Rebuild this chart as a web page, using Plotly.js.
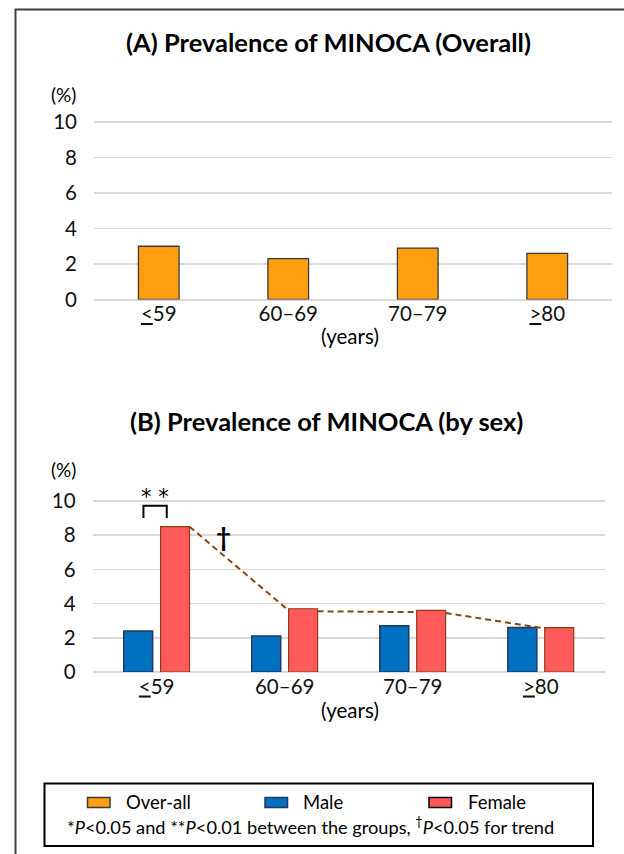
<!DOCTYPE html>
<html>
<head>
<meta charset="utf-8">
<script src="https://cdn.plot.ly/plotly-3.0.1.min.js"></script>
<style>html,body{margin:0;padding:0;background:#fff;}#chart{width:624px;height:854px;}</style>
</head>
<body>
<div id="chart"></div>
<script>
// ---- data ----
const ageGroups = ['<59', '60–69', '70–79', '>80'];
const tickLabels = ['<u>&lt;</u>59', '60–69', '70–79', '<u>&gt;</u>80'];
const overall = [3.0, 2.3, 2.9, 2.6];
const male = [2.4, 2.1, 2.7, 2.6];
const female = [8.5, 3.7, 3.6, 2.6];
// trend line (female): start value at each bar's right edge, end value at next bar's left edge
const trendFrom = [8.5, 3.55, 3.45];
const trendTo = [3.6, 3.5, 2.55];
const yTicks = [0, 2, 4, 6, 8, 10];
const titleA = '(A) Prevalence of MINOCA (Overall)';
const titleB = '(B) Prevalence of MINOCA (by sex)';
const legendNames = ['Over-all', 'Male', 'Female'];
const footnote = '*<i>P</i>&lt;0.05 and **<i>P</i>&lt;0.01 between the groups, <sup>†</sup><i>P</i>&lt;0.05 for trend';

// ---- styles ----
const W = 624, H = 854;
const FONT = 'Lato, "Open Sans", sans-serif';
const cOverall = '#FF9F10', cMale = '#0070C0', cFemale = '#FF5A5A';
const lOverall = '#3A3A3A', lMale = '#1F3864', lFemale = '#8E3B12';
const trendColor = '#8B4513';
const gridColor = '#D9D9D9';
const px = x => x / W;
const py = y => 1 - y / H;

const idx = ageGroups.map((_, i) => i);
const barW = 0.226, gap = 0.031;

const traces = [
  {type: 'bar', x: idx, y: overall, name: legendNames[0], xaxis: 'x', yaxis: 'y', width: 0.314,
   marker: {color: cOverall, line: {color: lOverall, width: 1.3}}, showlegend: false, hoverinfo: 'y'},
  {type: 'bar', x: idx, y: male, name: legendNames[1], xaxis: 'x2', yaxis: 'y2', width: barW, offset: -(barW + gap),
   marker: {color: cMale, line: {color: lMale, width: 1.5}}, showlegend: false, hoverinfo: 'y'},
  {type: 'bar', x: idx, y: female, name: legendNames[2], xaxis: 'x2', yaxis: 'y2', width: barW, offset: gap,
   marker: {color: cFemale, line: {color: lFemale, width: 1.2}}, showlegend: false, hoverinfo: 'y'}
];
// dashed trend segments
const tx = [], ty = [];
trendFrom.forEach((v, i) => {
  tx.push(i + gap + barW, i + 1 + gap, null);
  ty.push(v, trendTo[i], null);
});
traces.push({type: 'scatter', mode: 'lines', x: tx, y: ty, xaxis: 'x2', yaxis: 'y2',
  line: {color: trendColor, width: 2, dash: '6px,4px'}, showlegend: false, hoverinfo: 'skip', connectgaps: false});

const yAxisBase = {range: [0, 10.3], tickvals: yTicks, ticktext: yTicks.map(String), showgrid: true,
  gridcolor: gridColor, gridwidth: 1.5, zeroline: true, zerolinecolor: gridColor, zerolinewidth: 2,
  showline: false, ticks: '', ticklabelstandoff: 16, tickfont: {family: FONT, size: 20.5, color: '#111'}, fixedrange: true};
const xAxisBase = {range: [-0.5, 3.5], tickvals: idx, ticktext: tickLabels, showgrid: false, zeroline: false,
  showline: false, ticks: '', tickfont: {family: FONT, size: 20.5, color: '#111'}, fixedrange: true};

// A: 0 at y=299.5, 17.75 px/unit; B: 0 at y=672, 17.1 px/unit
const aZero = 299.5, aUnit = 17.75, bZero = 672, bUnit = 17.1;

const ann = [];
function txt(x, y, text, size, opts) {
  ann.push(Object.assign({xref: 'paper', yref: 'paper', x: px(x), y: py(y), text: text, showarrow: false,
    xanchor: 'center', yanchor: 'middle', font: {family: FONT, size: size, color: '#000'}}, opts || {}));
}
txt(328, 42, '<b>' + titleA + '</b>', 25.5);
txt(326, 421, '<b>' + titleB + '</b>', 25.5);
txt(63, 94, '(%)', 19);
txt(63, 470, '(%)', 19);
txt(350, 336, '(years)', 20.5);
txt(350, 710, '(years)', 20.5);
// significance markers in B
ann.push({xref: 'paper', yref: 'paper', x: px(154.5), y: py(497), text: '* *', showarrow: false,
  xanchor: 'center', yanchor: 'middle', font: {family: '"DejaVu Sans", sans-serif', size: 21, color: '#000'}});
txt(223, 537, '<b>†</b>', 26);
// legend texts
const legX = [87.5, 265, 429];
const legTextX = [124, 301, 466];
legendNames.forEach((n, i) => txt(legTextX[i], 802, n, 18.5, {xanchor: 'left'}));
txt(310, 825.5, footnote, 18.2);

const shapes = [];
// outer frame
shapes.push({type: 'rect', xref: 'paper', yref: 'paper', x0: px(15.5), x1: px(660), y0: py(9.5), y1: py(900),
  line: {color: '#3F3F3F', width: 2}, fillcolor: 'rgba(0,0,0,0)'});
// legend frame
shapes.push({type: 'rect', xref: 'paper', yref: 'paper', x0: px(44.5), x1: px(593), y0: py(783.5), y1: py(846),
  line: {color: '#000', width: 2}, fillcolor: 'rgba(0,0,0,0)'});
const swatch = [[cOverall, lOverall], [cMale, lMale], [cFemale, '#000']];
swatch.forEach((c, i) => {
  shapes.push({type: 'rect', xref: 'paper', yref: 'paper', x0: px(legX[i]), x1: px(legX[i] + 22.5), y0: py(797.5), y1: py(807.5),
    line: {color: c[1], width: 1.5}, fillcolor: c[0]});
});
// bracket for **
shapes.push({type: 'path', xref: 'x2', yref: 'y2', path: 'M -0.103,9.0 L -0.103,9.72 L 0.079,9.72 L 0.079,9.0',
  line: {color: '#000', width: 2}});

const layout = {
  width: W, height: H, margin: {l: 0, r: 0, t: 0, b: 0}, paper_bgcolor: '#fff', plot_bgcolor: 'rgba(0,0,0,0)',
  barmode: 'overlay', showlegend: false,
  xaxis: Object.assign({}, xAxisBase, {domain: [px(94), px(612)], anchor: 'y'}),
  yaxis: Object.assign({}, yAxisBase, {domain: [py(aZero), py(aZero - 10.3 * aUnit)], anchor: 'x'}),
  xaxis2: Object.assign({}, xAxisBase, {domain: [px(92.6), px(604.8)], anchor: 'y2'}),
  yaxis2: Object.assign({}, yAxisBase, {domain: [py(bZero), py(bZero - 10.3 * bUnit)], anchor: 'x2'}),
  annotations: ann, shapes: shapes
};
Plotly.newPlot('chart', traces, layout, {displayModeBar: false, staticPlot: true});
</script>
</body>
</html>
